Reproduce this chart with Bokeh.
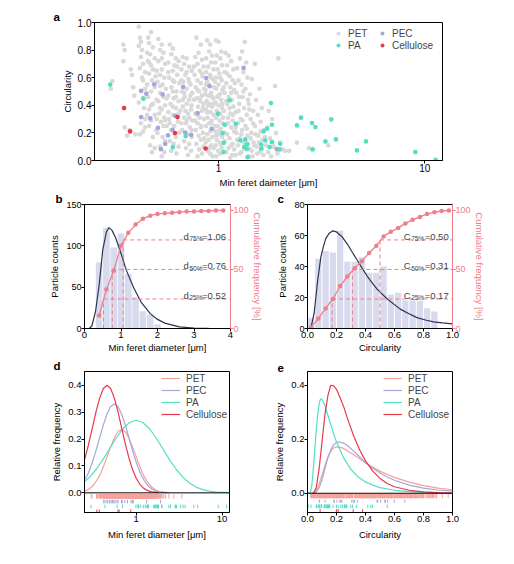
from bokeh.plotting import figure
from bokeh.models import (Range1d, LinearAxis, FixedTicker, Label, Legend, LegendItem,
                          Span, ColumnDataSource, NumeralTickFormatter)
from bokeh.layouts import column, row
from bokeh.embed import file_html
from bokeh.resources import INLINE

FONT = "Liberation Sans"
PINK = "#EE7F8B"
GRAY = "#D9D9D9"
PEC_C = "#A4A7DA"
PA_C = "#52DFC4"
CEL_C = "#E9394D"
PET_L = "#F6A29C"
NAVY = "#2E3350"
BAR = "#D8DAEE"

# ---------------- data: panel a (min feret diameter [um], circularity) ----------------
pet_xy = [
    (0.30, 0.52), (0.305, 0.575),
    (0.345, 0.84), (0.35, 0.80), (0.345, 0.72), (0.35, 0.24), (0.36, 0.18), (0.37, 0.22),
    (0.375, 0.66), (0.38, 0.62), (0.385, 0.53), (0.39, 0.47), (0.395, 0.19),
    (0.41, 0.97), (0.415, 0.89), (0.42, 0.86), (0.41, 0.83), (0.425, 0.80), (0.42, 0.75),
    (0.43, 0.70), (0.415, 0.67), (0.44, 0.64), (0.425, 0.60), (0.43, 0.58), (0.44, 0.52),
    (0.41, 0.42), (0.435, 0.38), (0.42, 0.27), (0.44, 0.24), (0.43, 0.21), (0.415, 0.19),
    (0.455, 0.89), (0.47, 0.93), (0.46, 0.85), (0.48, 0.82), (0.45, 0.78), (0.465, 0.77),
    (0.49, 0.74), (0.455, 0.72), (0.47, 0.69), (0.48, 0.66), (0.46, 0.63), (0.495, 0.61),
    (0.475, 0.58), (0.45, 0.55), (0.49, 0.53), (0.47, 0.50), (0.455, 0.46), (0.50, 0.44),
    (0.48, 0.41), (0.46, 0.37), (0.49, 0.33), (0.47, 0.29), (0.46, 0.25), (0.50, 0.22),
    (0.48, 0.17), (0.465, 0.11), (0.49, 0.09), (0.475, 0.06),
    (0.51, 0.88), (0.53, 0.84), (0.52, 0.80), (0.54, 0.78), (0.51, 0.72), (0.55, 0.70),
    (0.53, 0.66), (0.52, 0.62), (0.545, 0.60), (0.505, 0.57), (0.535, 0.55), (0.555, 0.52),
    (0.52, 0.49), (0.54, 0.46), (0.51, 0.43), (0.55, 0.40), (0.53, 0.37), (0.515, 0.34),
    (0.545, 0.31), (0.525, 0.28), (0.56, 0.25), (0.505, 0.20), (0.535, 0.17), (0.55, 0.14),
    (0.52, 0.10), (0.545, 0.06), (0.53, 0.03),
    (0.58, 0.84), (0.60, 0.81), (0.59, 0.77), (0.62, 0.74), (0.57, 0.71), (0.61, 0.69),
    (0.64, 0.72), (0.60, 0.65), (0.63, 0.62), (0.575, 0.60), (0.61, 0.57), (0.645, 0.56),
    (0.59, 0.53), (0.625, 0.50), (0.57, 0.47), (0.605, 0.45), (0.64, 0.43), (0.585, 0.41),
    (0.62, 0.38), (0.65, 0.36), (0.60, 0.33), (0.575, 0.30), (0.635, 0.28), (0.61, 0.25),
    (0.59, 0.22), (0.645, 0.20), (0.62, 0.17), (0.58, 0.14), (0.605, 0.12), (0.64, 0.10),
    (0.59, 0.07), (0.625, 0.05),
    (0.67, 0.75), (0.70, 0.74), (0.68, 0.70), (0.72, 0.68), (0.66, 0.66), (0.74, 0.65),
    (0.69, 0.62), (0.715, 0.59), (0.675, 0.57), (0.73, 0.55), (0.70, 0.52), (0.665, 0.50),
    (0.745, 0.49), (0.685, 0.46), (0.72, 0.44), (0.70, 0.41), (0.67, 0.39), (0.735, 0.37),
    (0.71, 0.34), (0.68, 0.31), (0.745, 0.29), (0.695, 0.27), (0.725, 0.24), (0.665, 0.22),
    (0.705, 0.19), (0.74, 0.17), (0.68, 0.14), (0.72, 0.12), (0.695, 0.09), (0.735, 0.07),
    (0.71, 0.04),
    (0.78, 0.89), (0.82, 0.84), (0.80, 0.78), (0.77, 0.75), (0.83, 0.73), (0.79, 0.70),
    (0.845, 0.68), (0.81, 0.65), (0.765, 0.62), (0.835, 0.61), (0.79, 0.58), (0.82, 0.56),
    (0.775, 0.53), (0.85, 0.52), (0.805, 0.50), (0.83, 0.47), (0.78, 0.45), (0.815, 0.43),
    (0.845, 0.41), (0.795, 0.39), (0.83, 0.36), (0.77, 0.34), (0.81, 0.31), (0.85, 0.30),
    (0.79, 0.27), (0.825, 0.25), (0.775, 0.22), (0.84, 0.20), (0.80, 0.18), (0.82, 0.15),
    (0.78, 0.12), (0.845, 0.10), (0.805, 0.08), (0.83, 0.05), (0.79, 0.03),
    (0.88, 0.87), (0.91, 0.84), (0.90, 0.79), (0.93, 0.76), (0.87, 0.74), (0.92, 0.71),
    (0.89, 0.68), (0.945, 0.66), (0.87, 0.64), (0.91, 0.62), (0.935, 0.59), (0.88, 0.57),
    (0.90, 0.55), (0.95, 0.53), (0.865, 0.51), (0.92, 0.49), (0.89, 0.47), (0.94, 0.45),
    (0.875, 0.43), (0.905, 0.41), (0.93, 0.39), (0.87, 0.37), (0.915, 0.35), (0.945, 0.33),
    (0.885, 0.31), (0.925, 0.29), (0.90, 0.27), (0.87, 0.25), (0.94, 0.23), (0.91, 0.21),
    (0.88, 0.19), (0.93, 0.17), (0.895, 0.15), (0.865, 0.13), (0.92, 0.11), (0.945, 0.09),
    (0.885, 0.07), (0.91, 0.05), (0.935, 0.03),
    (0.97, 0.87), (1.00, 0.86), (1.03, 0.79), (0.98, 0.76), (1.02, 0.74), (0.965, 0.71),
    (1.04, 0.69), (0.99, 0.66), (1.01, 0.63), (0.97, 0.60), (1.035, 0.58), (1.00, 0.55),
    (0.975, 0.52), (1.045, 0.51), (1.015, 0.48), (0.985, 0.46), (1.03, 0.44), (0.965, 0.42),
    (1.00, 0.40), (1.04, 0.38), (0.98, 0.36), (1.02, 0.34), (0.97, 0.31), (1.01, 0.29),
    (1.045, 0.27), (0.99, 0.25), (1.025, 0.23), (0.965, 0.21), (1.00, 0.19), (1.04, 0.17),
    (0.98, 0.15), (1.015, 0.13), (0.97, 0.11), (1.035, 0.09), (0.995, 0.07), (1.02, 0.05),
    (0.975, 0.03),
    (1.08, 0.78), (1.12, 0.76), (1.15, 0.72), (1.10, 0.69), (1.18, 0.66), (1.07, 0.64),
    (1.13, 0.61), (1.17, 0.58), (1.09, 0.56), (1.14, 0.53), (1.19, 0.51), (1.07, 0.49),
    (1.12, 0.46), (1.16, 0.44), (1.10, 0.41), (1.18, 0.39), (1.06, 0.36), (1.14, 0.34),
    (1.11, 0.31), (1.17, 0.29), (1.08, 0.26), (1.15, 0.24), (1.19, 0.21), (1.10, 0.19),
    (1.13, 0.16), (1.07, 0.14), (1.17, 0.12), (1.12, 0.09), (1.09, 0.06), (1.16, 0.04),
    (1.14, 0.02),
    (1.30, 0.79), (1.34, 0.86), (1.27, 0.74), (1.36, 0.71), (1.23, 0.67), (1.32, 0.64),
    (1.38, 0.60), (1.25, 0.58), (1.29, 0.55), (1.35, 0.52), (1.22, 0.49), (1.31, 0.46),
    (1.39, 0.44), (1.26, 0.41), (1.33, 0.38), (1.21, 0.35), (1.37, 0.33), (1.28, 0.30),
    (1.24, 0.27), (1.35, 0.25), (1.30, 0.22), (1.22, 0.20), (1.38, 0.18), (1.27, 0.16),
    (1.33, 0.13), (1.24, 0.11), (1.36, 0.08), (1.29, 0.06), (1.21, 0.04), (1.40, 0.03),
    (1.50, 0.70), (1.45, 0.59), (1.58, 0.52), (1.42, 0.48), (1.52, 0.44), (1.62, 0.38),
    (1.47, 0.36), (1.55, 0.33), (1.43, 0.30), (1.60, 0.28), (1.50, 0.25), (1.66, 0.22),
    (1.44, 0.20), (1.56, 0.18), (1.63, 0.15), (1.48, 0.13), (1.53, 0.10), (1.42, 0.08),
    (1.59, 0.06), (1.65, 0.04), (1.46, 0.03),
    (1.95, 0.74), (1.88, 0.54), (1.75, 0.36), (1.82, 0.30), (1.72, 0.24), (1.90, 0.20),
    (1.78, 0.16), (1.98, 0.13), (1.85, 0.10), (2.05, 0.08), (1.74, 0.06), (1.93, 0.05),
    (2.10, 0.07), (1.80, 0.03),
    (2.20, 0.07), (2.75, 0.09), (3.40, 0.11), (2.40, 0.13),
    (0.76, 0.44), (0.79, 0.33), (0.82, 0.24), (0.85, 0.16), (0.88, 0.35), (0.90, 0.09),
    (0.92, 0.27), (0.95, 0.41), (0.97, 0.18), (0.99, 0.33), (1.01, 0.22), (1.03, 0.12),
    (1.05, 0.31), (1.07, 0.20), (1.09, 0.43), (1.11, 0.27), (1.13, 0.38), (1.15, 0.11),
    (1.17, 0.33), (1.19, 0.08), (1.21, 0.24), (1.23, 0.15), (1.25, 0.36), (1.27, 0.05),
    (1.29, 0.19), (1.31, 0.29), (1.33, 0.09), (1.35, 0.14), (1.37, 0.23), (1.39, 0.12),
    (1.41, 0.37), (1.43, 0.16), (1.45, 0.07), (1.47, 0.27), (1.49, 0.11), (1.51, 0.19),
    (1.54, 0.05), (1.57, 0.13), (1.60, 0.21), (1.62, 0.09), (1.68, 0.17), (1.70, 0.11),
    (0.86, 0.48), (0.89, 0.40), (0.93, 0.46), (0.96, 0.25), (1.00, 0.47), (1.04, 0.41),
    (0.84, 0.38), (0.81, 0.45), (0.77, 0.29), (0.74, 0.40), (0.72, 0.31), (0.69, 0.36),
    (0.66, 0.27), (0.63, 0.32), (0.60, 0.39), (0.57, 0.35), (0.55, 0.29), (0.52, 0.38),
    (0.43, 0.45), (0.45, 0.33), (0.47, 0.40), (0.50, 0.30), (0.52, 0.54), (0.54, 0.25),
    (0.56, 0.45), (0.58, 0.27), (0.60, 0.58), (0.62, 0.46), (0.64, 0.34), (0.66, 0.58),
    (0.68, 0.49), (0.70, 0.29), (0.72, 0.57), (0.74, 0.22), (0.44, 0.30), (0.46, 0.71),
    (0.50, 0.65), (0.53, 0.74), (0.57, 0.64), (0.60, 0.50), (0.63, 0.68), (0.67, 0.44),
    (0.70, 0.64), (0.73, 0.47), (0.76, 0.68), (0.79, 0.51), (0.83, 0.63), (0.87, 0.55),
    (0.92, 0.60), (0.96, 0.57), (1.02, 0.60), (1.06, 0.53), (1.10, 0.63), (1.15, 0.49),
    (1.20, 0.56), (1.26, 0.46), (1.32, 0.50), (1.40, 0.41),
]
pet_d = [p[0] for p in pet_xy]
pet_c = [p[1] for p in pet_xy]

pec_d = [0.421, 0.446, 0.487, 0.535, 0.421, 0.466, 0.508, 0.551, 0.525, 0.568, 0.598,
         0.616, 0.673, 0.689, 0.736, 0.791, 0.871, 0.904, 0.925, 1.322, 1.919]
pec_c = [0.504, 0.484, 0.552, 0.479, 0.315, 0.305, 0.237, 0.121, 0.082, 0.182, 0.223,
         0.324, 0.533, 0.203, 0.186, 0.344, 0.598, 0.538, 0.230, 0.671, 0.082]

pa_d = [0.298, 0.432, 0.600, 0.692, 0.993, 1.046, 1.061, 1.057, 1.069, 1.131, 1.210,
        1.274, 1.346, 1.333, 1.373, 1.383, 1.373, 1.611, 1.611, 1.653, 1.717, 1.685,
        1.769, 1.795, 1.815, 1.815, 1.992, 1.977, 2.40, 2.51, 2.84, 2.95, 2.86, 3.30,
        3.52, 3.71, 4.69, 5.19, 9.01, 11.3]
pa_c = [0.55, 0.448, 0.097, 0.177, 0.339, 0.199, 0.128, 0.061, 0.259, 0.436, 0.266,
        0.145, 0.153, 0.097, 0.085, 0.024, 0.116, 0.116, 0.085, 0.211, 0.23, 0.145,
        0.097, 0.416, 0.259, 0.133, 0.121, 0.080, 0.254, 0.31, 0.271, 0.242, 0.080, 0.138,
        0.298, 0.153, 0.073, 0.138, 0.061, 0.005]

cel_d = [0.348, 0.372, 0.632, 0.614, 0.865]
cel_c = [0.380, 0.211, 0.315, 0.199, 0.087]

# ---------------- data: panel b (diameter histogram) ----------------
b_bin = [0.4, 0.6, 0.8, 1.0, 1.2, 1.4, 1.6, 1.8, 2.0]
b_count = [80, 122, 98, 115, 66, 38, 21, 17, 5]
b_fit_x = [0.13, 0.2, 0.3, 0.4, 0.5, 0.6, 0.67, 0.75, 0.85, 1.0, 1.15, 1.35, 1.55, 1.8,
           2.0, 2.2, 2.6, 3.0, 3.4]
b_fit_y = [0, 3, 20, 52, 95, 117, 122, 119, 110, 91, 70, 49, 32, 18, 11, 6.5, 2, 0.5, 0.1]
b_cum_x = [0.4, 0.6, 0.8, 1.0, 1.2, 1.4, 1.6, 1.8, 2.0, 2.2, 2.4, 2.6, 2.8, 3.0, 3.2,
           3.4, 3.6, 3.8]
b_cum_y = [11, 33, 49, 70, 81, 88, 93, 95.5, 97, 97.5, 98, 98.5, 99, 99, 99.5, 99.5,
           100, 100]
b_q_pct = [25, 50, 75]
b_q_val = [0.52, 0.76, 1.06]
q_lbl = ["25%", "50%", "75%"]

# ---------------- data: panel c (circularity histogram) ----------------
c_bin = [0.025, 0.075, 0.125, 0.175, 0.225, 0.275, 0.325, 0.375, 0.425, 0.475, 0.525,
         0.575, 0.625, 0.675, 0.725, 0.775, 0.825, 0.875]
c_count = [7, 45, 50, 49, 63, 43, 43, 46, 36, 36, 40, 22, 23, 18, 18, 18, 13, 11]
c_fit_x = [0.018, 0.03, 0.046, 0.069, 0.092, 0.11, 0.126, 0.15, 0.175, 0.2, 0.24, 0.275,
           0.31, 0.343, 0.38, 0.41, 0.45, 0.48, 0.55, 0.64, 0.7, 0.755, 0.82, 0.87,
           0.93, 1.0]
c_fit_y = [0, 3, 10, 30, 46, 53, 58, 61.5, 63, 62.3, 59, 54.5, 49, 44, 38.5, 34, 29, 25.4,
           19, 12.5, 9.5, 7, 5.3, 4.3, 3.6, 3]
c_cum_x = [0.025, 0.075, 0.125, 0.175, 0.225, 0.275, 0.325, 0.375, 0.425, 0.475, 0.525,
           0.575, 0.625, 0.675, 0.725, 0.775, 0.825, 0.875, 0.925, 0.975]
c_cum_y = [1, 8.5, 17, 25, 36, 44, 51, 57, 64, 70, 78, 82, 85, 89, 92, 94.5, 97, 98.5,
           99.5, 100]
c_q_pct = [25, 50, 75]
c_q_val = [0.17, 0.31, 0.50]

# ---------------- data: panel d (diameter distributions) ----------------
d_pet_x = [0.251, 0.269, 0.295, 0.324, 0.355, 0.389, 0.427, 0.468, 0.513, 0.562, 0.617,
           0.676, 0.741, 0.813, 0.891, 0.977, 1.072, 1.175, 1.288, 1.413, 1.549, 1.698,
           1.862, 2.042, 2.455]
d_pet_y = [0.006, 0.010, 0.019, 0.032, 0.051, 0.076, 0.108, 0.143, 0.177, 0.207, 0.228,
           0.235, 0.228, 0.207, 0.177, 0.143, 0.108, 0.076, 0.051, 0.032, 0.019, 0.010,
           0.005, 0.003, 0.0005]
d_pec_x = [0.248, 0.275, 0.304, 0.336, 0.3715, 0.411, 0.4545, 0.5025, 0.556, 0.615, 0.680,
           0.752, 0.832, 0.920, 1.017, 1.125, 1.245, 1.377, 1.522, 1.683, 1.862, 2.278]
d_pec_y = [0.045, 0.071, 0.107, 0.151, 0.200, 0.249, 0.291, 0.320, 0.330, 0.320, 0.291,
           0.249, 0.200, 0.151, 0.107, 0.071, 0.045, 0.026, 0.0145, 0.0075, 0.0037, 0.0007]
d_pa_x = [0.240, 0.2868, 0.3428, 0.4097, 0.4898, 0.5854, 0.6998, 0.8365, 1.0, 1.1954,
          1.429, 1.708, 2.042, 2.441, 2.917, 3.487, 4.169, 4.983, 5.957, 7.120, 8.511, 12.16]
d_pa_y = [0.0365, 0.0584, 0.0877, 0.1236, 0.1638, 0.2038, 0.2383, 0.2616, 0.27, 0.2616,
          0.2383, 0.2038, 0.1638, 0.1236, 0.0877, 0.0584, 0.0365, 0.0215, 0.0119, 0.0062,
          0.0030, 0.0006]
d_cel_x = [0.2304, 0.2541, 0.2802, 0.309, 0.3407, 0.3758, 0.4144, 0.4571, 0.504, 0.556,
           0.613, 0.676, 0.7454, 0.8222, 0.9067, 1.0, 1.103, 1.216, 1.341, 1.479, 1.799]
d_cel_y = [0.0865, 0.1299, 0.1831, 0.2426, 0.3019, 0.353, 0.3876, 0.40, 0.3876, 0.353,
           0.3019, 0.2426, 0.1831, 0.1299, 0.0865, 0.0541, 0.0318, 0.0176, 0.0091, 0.0044,
           0.0009]

# ---------------- data: panel e (circularity distributions) ----------------
e_pet_x = [0.03, 0.05, 0.07, 0.09, 0.11, 0.13, 0.15, 0.17, 0.19, 0.21, 0.24, 0.28, 0.32,
           0.36, 0.40, 0.45, 0.5, 0.55, 0.6, 0.7, 0.8, 0.9, 1.0]
e_pet_y = [0, 0.005, 0.02, 0.05, 0.085, 0.12, 0.145, 0.163, 0.171, 0.172, 0.168, 0.156,
           0.142, 0.128, 0.113, 0.097, 0.082, 0.07, 0.059, 0.041, 0.028, 0.019, 0.013]
e_pec_x = [0.04, 0.06, 0.08, 0.10, 0.12, 0.14, 0.16, 0.18, 0.20, 0.22, 0.25, 0.28, 0.32,
           0.36, 0.40, 0.45, 0.5, 0.55, 0.6, 0.7, 0.8, 0.9, 1.0]
e_pec_y = [0, 0.005, 0.02, 0.05, 0.09, 0.13, 0.16, 0.18, 0.188, 0.19, 0.185, 0.175, 0.155,
           0.135, 0.113, 0.093, 0.075, 0.06, 0.048, 0.03, 0.019, 0.012, 0.008]
e_pa_x = [0.0, 0.02, 0.03, 0.04, 0.05, 0.06, 0.07, 0.08, 0.09, 0.10, 0.12, 0.14, 0.16,
          0.18, 0.20, 0.25, 0.30, 0.35, 0.40, 0.45, 0.5, 0.6, 0.7, 0.8, 0.9, 1.0]
e_pa_y = [0, 0.003, 0.03, 0.09, 0.16, 0.23, 0.29, 0.33, 0.35, 0.348, 0.325, 0.29, 0.255,
          0.22, 0.19, 0.13, 0.088, 0.06, 0.042, 0.03, 0.021, 0.011, 0.006, 0.003, 0.0015,
          0.001]
e_cel_x = [0.04, 0.06, 0.08, 0.10, 0.12, 0.14, 0.16, 0.18, 0.20, 0.22, 0.25, 0.28, 0.32,
           0.36, 0.40, 0.45, 0.5, 0.55, 0.6, 0.7, 0.8, 0.9, 1.0]
e_cel_y = [0, 0.02, 0.09, 0.19, 0.29, 0.36, 0.40, 0.398, 0.385, 0.36, 0.32, 0.27, 0.21,
           0.16, 0.12, 0.082, 0.055, 0.036, 0.024, 0.011, 0.005, 0.002, 0.001]

names = ["PET", "PEC", "PA", "Cellulose"]


# ---------------- helpers ----------------
def base_fig(letter, offset, **kw):
    p = figure(output_backend="svg", toolbar_location=None, title=letter, **kw)
    p.title.align = "left"
    p.title.offset = offset
    p.title.standoff = 0
    p.title.text_font = FONT
    p.title.text_font_size = "11.5px"
    p.title.text_font_style = "bold"
    p.title.text_color = "black"
    p.xgrid.visible = False
    p.ygrid.visible = False
    p.outline_line_color = "black"
    p.outline_line_width = 1
    p.outline_line_alpha = 1.0
    p.background_fill_color = "white"
    p.border_fill_color = "white"
    return p


def style_axis(ax, color="black", size="9.5px", lstand=2):
    ax.axis_line_color = color
    ax.major_tick_line_color = color
    ax.major_tick_in = 0
    ax.major_tick_out = 3
    ax.minor_tick_in = 0
    ax.minor_tick_out = 0
    ax.major_label_text_font = FONT
    ax.major_label_text_font_size = size
    ax.major_label_text_color = color
    ax.axis_label_text_font = FONT
    ax.axis_label_text_font_size = "9.5px"
    ax.axis_label_text_font_style = "normal"
    ax.axis_label_text_color = color
    ax.major_label_standoff = 0
    ax.axis_label_standoff = lstand


def leg_box(p, items, loc, gw, lw):
    lg = Legend(items=items, location=loc, orientation="horizontal", margin=0, padding=0,
                spacing=0, glyph_width=gw, glyph_height=12, label_height=12,
                label_width=lw, label_standoff=5, label_text_font=FONT,
                label_text_font_size="10px", border_line_color=None,
                background_fill_alpha=0)
    p.add_layout(lg)


# ---------------- panel a ----------------
fa = base_fig("a", -41, width=506, height=190, x_axis_type="log",
              x_range=Range1d(0.25, 12.2), y_range=Range1d(0, 1), min_border_left=94,
              min_border_right=64, min_border_top=22, min_border_bottom=30)
r_pet = fa.scatter(pet_d, pet_c, size=4.7, color=GRAY, line_color=None)
r_pec = fa.scatter(pec_d, pec_c, size=4.7, color=PEC_C, line_color=None)
r_pa = fa.scatter(pa_d, pa_c, size=4.7, color=PA_C, line_color=None)
r_cel = fa.scatter(cel_d, cel_c, size=4.7, color=CEL_C, line_color=None)
fa.xaxis.ticker = FixedTicker(ticks=[1, 10])
fa.xaxis.formatter = NumeralTickFormatter(format="0")
fa.yaxis.ticker = FixedTicker(ticks=[0, 0.2, 0.4, 0.6, 0.8, 1.0])
fa.yaxis.formatter = NumeralTickFormatter(format="0.0")
fa.xaxis.axis_label = "Min feret daimeter [\u03bcm]"
fa.yaxis.axis_label = "Circularity"
for ax in fa.axis:
    style_axis(ax, size="10px", lstand=2)
leg_box(fa, [LegendItem(label="PET", renderers=[r_pet]),
             LegendItem(label="PEC", renderers=[r_pec])], (239, 121), 10, 29)
leg_box(fa, [LegendItem(label="PA", renderers=[r_pa]),
             LegendItem(label="Cellulose", renderers=[r_cel])], (239, 109), 10, 29)

# ---------------- panel b ----------------
fb = base_fig("b", -29, width=268, height=167, x_range=Range1d(0, 4),
              y_range=Range1d(0, 150), min_border_left=84, min_border_right=38,
              min_border_top=13, min_border_bottom=29)
fb.extra_y_ranges = {"cum": Range1d(0, 105)}
fb.vbar(x=b_bin, top=b_count, width=0.18, color=BAR, line_color=None)
fb.line(b_fit_x, b_fit_y, color=NAVY, line_width=1.2)
fb.segment(x0=b_q_val, y0=[0, 0, 0], x1=b_q_val, y1=b_q_pct, y_range_name="cum",
           line_color=PINK, line_dash="4 3", line_width=1)
fb.segment(x0=b_q_val, y0=b_q_pct, x1=[4, 4, 4], y1=b_q_pct, y_range_name="cum",
           line_color=PINK, line_dash="4 3", line_width=1)
fb.line(b_cum_x, b_cum_y, y_range_name="cum", color=PINK, line_width=1.3)
fb.scatter(b_cum_x, b_cum_y, y_range_name="cum", size=4.5, color=PINK, line_color=None)
fb.xaxis.ticker = FixedTicker(ticks=[0, 1, 2, 3, 4])
fb.yaxis.ticker = FixedTicker(ticks=[0, 50, 100, 150])
fb.xaxis.axis_label = "Min feret diameter [\u03bcm]"
fb.yaxis.axis_label = "Particle counts"
rb = LinearAxis(y_range_name="cum", ticker=FixedTicker(ticks=[0, 50, 100]),
                axis_label="Cumulative frequency [%]")
fb.add_layout(rb, "right")
for ax in fb.axis:
    style_axis(ax, lstand=1)
style_axis(rb, color=PINK, size="9px", lstand=0)
fb.yaxis[0].axis_label_standoff = 3
fb.yaxis[0].major_label_text_font_size = "9px"
for pct, val, lbl in zip(b_q_pct, b_q_val, q_lbl):
    fb.add_layout(Label(x=2.71, y=pct + 3, y_range_name="cum", text="d", text_font=FONT,
                        text_font_size="9.5px", text_baseline="alphabetic"))
    fb.add_layout(Label(x=2.71, y=pct + 1.1, y_range_name="cum", x_offset=6, text=lbl,
                        text_font=FONT, text_font_size="6.5px", text_baseline="alphabetic"))
    fb.add_layout(Label(x=2.71, y=pct + 3, y_range_name="cum", x_offset=18.5,
                        text="=%.2f" % val, text_font=FONT, text_font_size="9.5px",
                        text_baseline="alphabetic"))

# ---------------- panel c ----------------
fc = base_fig("c", -30, width=238, height=167, x_range=Range1d(0, 1),
              y_range=Range1d(0, 80), min_border_left=39, min_border_right=54,
              min_border_top=13, min_border_bottom=29)
fc.extra_y_ranges = {"cum": Range1d(0, 105)}
fc.vbar(x=c_bin, top=c_count, width=0.043, color=BAR, line_color=None)
fc.line(c_fit_x, c_fit_y, color=NAVY, line_width=1.2)
fc.segment(x0=c_q_val, y0=[0, 0, 0], x1=c_q_val, y1=c_q_pct, y_range_name="cum",
           line_color=PINK, line_dash="4 3", line_width=1)
fc.segment(x0=c_q_val, y0=c_q_pct, x1=[1, 1, 1], y1=c_q_pct, y_range_name="cum",
           line_color=PINK, line_dash="4 3", line_width=1)
fc.line(c_cum_x, c_cum_y, y_range_name="cum", color=PINK, line_width=1.3)
fc.scatter(c_cum_x, c_cum_y, y_range_name="cum", size=4.5, color=PINK, line_color=None)
fc.xaxis.ticker = FixedTicker(ticks=[0, 0.2, 0.4, 0.6, 0.8, 1.0])
fc.xaxis.formatter = NumeralTickFormatter(format="0.0")
fc.yaxis.ticker = FixedTicker(ticks=[0, 20, 40, 60, 80])
fc.xaxis.axis_label = "Circularity"
fc.yaxis.axis_label = "Particle counts"
rc = LinearAxis(y_range_name="cum", ticker=FixedTicker(ticks=[0, 50, 100]),
                axis_label="Cumulative frequency [%]")
fc.add_layout(rc, "right")
for ax in fc.axis:
    style_axis(ax, lstand=1)
style_axis(rc, color=PINK, size="9px", lstand=0)
fc.yaxis[0].axis_label_standoff = 3
fc.yaxis[0].major_label_text_font_size = "9px"
for pct, val, lbl in zip(c_q_pct, c_q_val, q_lbl):
    fc.add_layout(Label(x=0.663, y=pct + 3, y_range_name="cum", text="C", text_font=FONT,
                        text_font_size="9.5px", text_baseline="alphabetic"))
    fc.add_layout(Label(x=0.663, y=pct + 1.1, y_range_name="cum", x_offset=7.5, text=lbl,
                        text_font=FONT, text_font_size="6.5px", text_baseline="alphabetic"))
    fc.add_layout(Label(x=0.663, y=pct + 3, y_range_name="cum", x_offset=21,
                        text="=%.2f" % val, text_font=FONT, text_font_size="9.5px",
                        text_baseline="alphabetic"))


# ---------------- panels d and e ----------------
def rugs(p, vals, y0, y1, color):
    src = ColumnDataSource(dict(x=vals))
    p.segment(x0="x", x1="x", y0=y0, y1=y1, source=src, line_color=color, line_width=1)


def dist_legend(p, rs, vx):
    leg = Legend(items=[LegendItem(label=n, renderers=[r]) for n, r in zip(names, rs)],
                 location=(vx, 92), margin=0, padding=0, spacing=0,
                 glyph_width=19, glyph_height=12, label_height=12, label_standoff=6,
                 label_text_font=FONT, label_text_font_size="10px",
                 border_line_color=None, background_fill_alpha=0)
    p.add_layout(leg)


fd = base_fig("d", -31, width=268, height=199, x_axis_type="log",
              x_range=Range1d(0.25, 12.2), y_range=Range1d(-0.073, 0.451),
              min_border_left=84, min_border_right=39, min_border_top=13,
              min_border_bottom=44)
rugs(fd, pet_d, -0.005, -0.021, PET_L)
rugs(fd, pec_d, -0.026, -0.039, PEC_C)
rugs(fd, pa_d, -0.044, -0.057, PA_C)
rugs(fd, cel_d, -0.062, -0.074, CEL_C)
fd.add_layout(Span(location=0, dimension="width", line_color="black", line_width=1))
l1 = fd.line(d_pet_x, d_pet_y, color=PET_L, line_width=1.2)
l2 = fd.line(d_pec_x, d_pec_y, color=PEC_C, line_width=1.2)
l3 = fd.line(d_pa_x, d_pa_y, color=PA_C, line_width=1.2)
l4 = fd.line(d_cel_x, d_cel_y, color=CEL_C, line_width=1.2)
fd.xaxis.ticker = FixedTicker(ticks=[1, 10])
fd.xaxis.formatter = NumeralTickFormatter(format="0")
fd.yaxis.ticker = FixedTicker(ticks=[0, 0.1, 0.2, 0.3, 0.4])
fd.yaxis.formatter = NumeralTickFormatter(format="0.0")
fd.xaxis.axis_label = "Min feret diameter [\u03bcm]"
fd.yaxis.axis_label = "Relative frequency"
for ax in fd.axis:
    style_axis(ax, lstand=4)
fd.yaxis[0].axis_label_standoff = 3
dist_legend(fd, [l1, l2, l3, l4], 77)

fe = base_fig("e", -30, width=238, height=199, x_range=Range1d(0, 1),
              y_range=Range1d(-0.0713, 0.451), min_border_left=39, min_border_right=54,
              min_border_top=13, min_border_bottom=44)
rugs(fe, pet_c, -0.003, -0.018, PET_L)
rugs(fe, pec_c, -0.024, -0.035, PEC_C)
rugs(fe, pa_c, -0.042, -0.055, PA_C)
rugs(fe, cel_c, -0.059, -0.072, CEL_C)
fe.add_layout(Span(location=0, dimension="width", line_color="black", line_width=1))
m1 = fe.line(e_pet_x, e_pet_y, color=PET_L, line_width=1.2)
m2 = fe.line(e_pec_x, e_pec_y, color=PEC_C, line_width=1.2)
m3 = fe.line(e_pa_x, e_pa_y, color=PA_C, line_width=1.2)
m4 = fe.line(e_cel_x, e_cel_y, color=CEL_C, line_width=1.2)
fe.xaxis.ticker = FixedTicker(ticks=[0, 0.2, 0.4, 0.6, 0.8, 1.0])
fe.xaxis.formatter = NumeralTickFormatter(format="0.0")
fe.yaxis.ticker = FixedTicker(ticks=[0, 0.2, 0.4])
fe.yaxis.formatter = NumeralTickFormatter(format="0.0")
fe.xaxis.axis_label = "Circularity"
fe.yaxis.axis_label = "Relative frequency"
for ax in fe.axis:
    style_axis(ax, lstand=4)
fe.yaxis[0].axis_label_standoff = 3
dist_legend(fe, [m1, m2, m3, m4], 76)

layout = column(fa, row(fb, fc), row(fd, fe))
open("out.html", "w").write(file_html(layout, INLINE))
